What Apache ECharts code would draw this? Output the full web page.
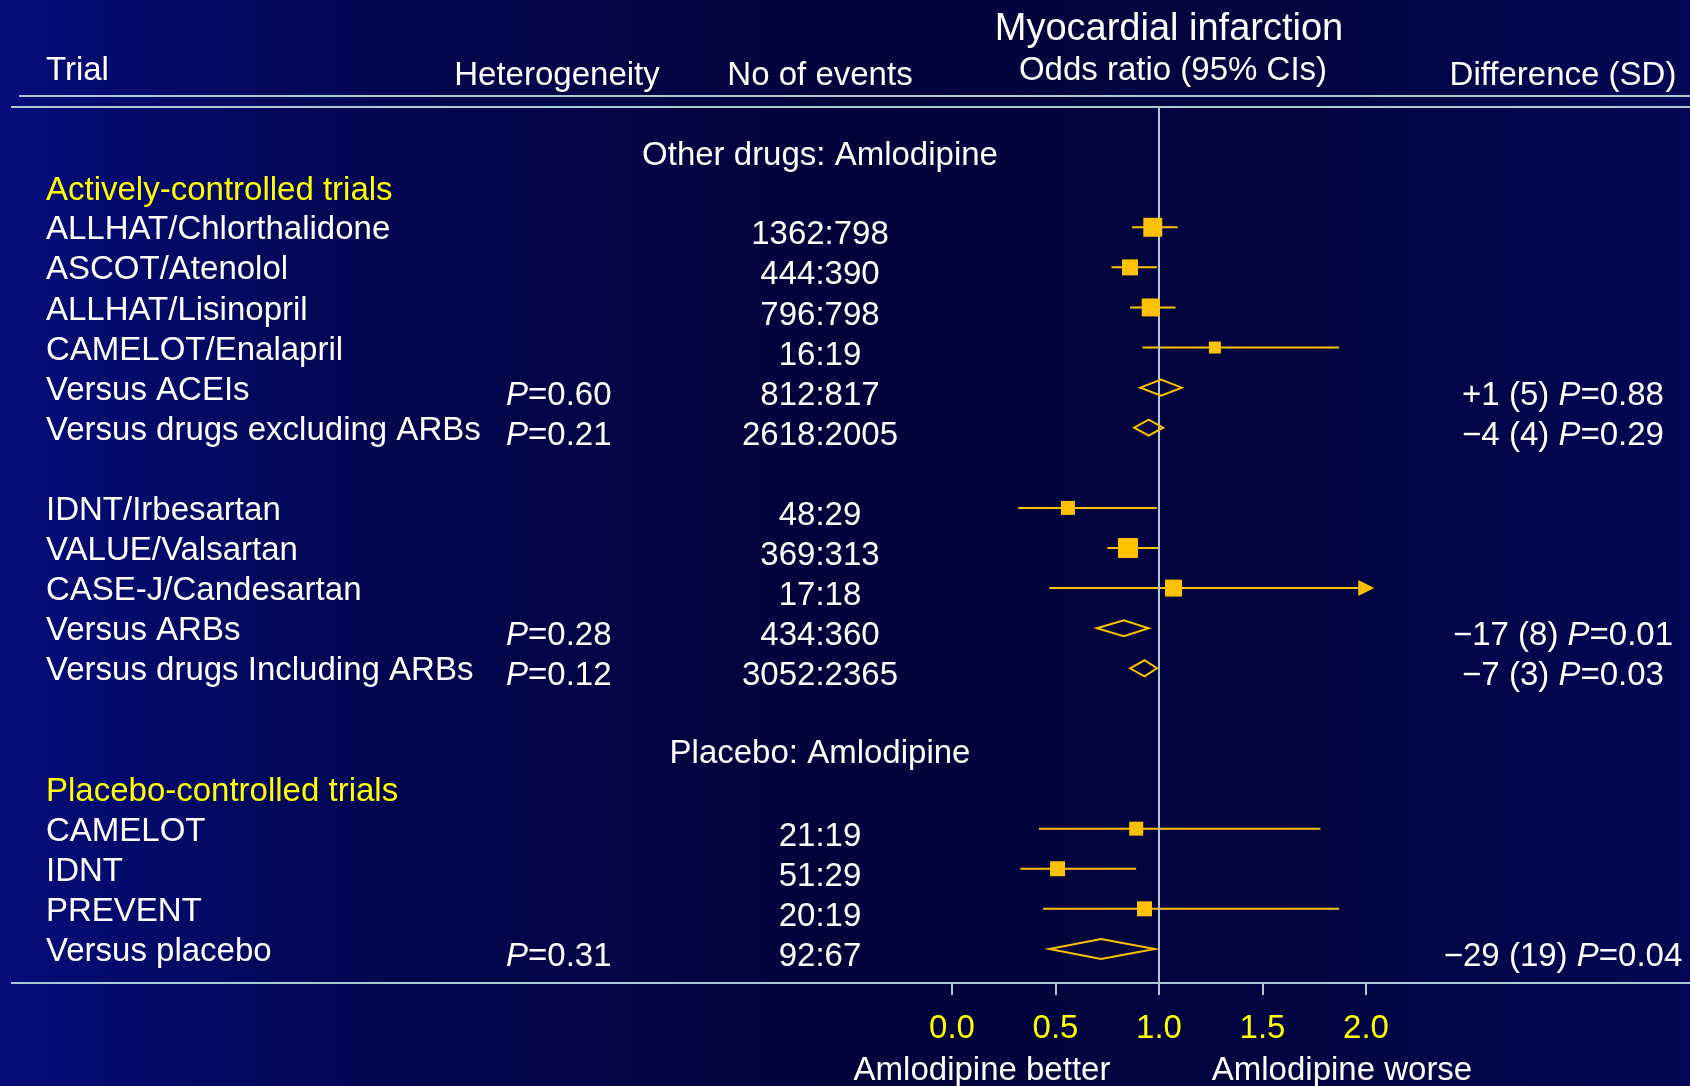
<!DOCTYPE html>
<html>
<head>
<meta charset="utf-8">
<script src="https://cdn.jsdelivr.net/npm/echarts@6/dist/echarts.min.js"></script>
<style>
  html, body { margin: 0; padding: 0; overflow: hidden; background: #01023a; }
  #chart { width: 1690px; height: 1086px; }
</style>
</head>
<body>
<div id="chart"></div>
<script>
// rows of the forest plot, top to bottom
const trialLabels = [
    'ALLHAT/Chlorthalidone', 'ASCOT/Atenolol', 'ALLHAT/Lisinopril', 'CAMELOT/Enalapril',
    'Versus ACEIs', 'Versus drugs excluding ARBs',
    'IDNT/Irbesartan', 'VALUE/Valsartan', 'CASE-J/Candesartan',
    'Versus ARBs', 'Versus drugs Including ARBs',
    'CAMELOT', 'IDNT', 'PREVENT', 'Versus placebo'
];
const rowIndex = [0, 1, 2, 3, 4, 5, 7, 8, 9, 10, 11, 15, 16, 17, 18];
const isPooled = [0, 0, 0, 0, 1, 1, 0, 0, 0, 1, 1, 0, 0, 0, 1];
const events = [
    '1362:798', '444:390', '796:798', '16:19', '812:817', '2618:2005',
    '48:29', '369:313', '17:18', '434:360', '3052:2365',
    '21:19', '51:29', '20:19', '92:67'
];
const oddsRatio = [0.97, 0.86, 0.96, 1.27, 1.01, 0.95, 0.56, 0.85, 1.07, 0.83, 0.93, 0.89, 0.51, 0.93, 0.72];
const ciLow     = [0.87, 0.77, 0.86, 0.92, 0.91, 0.88, 0.32, 0.75, 0.47, 0.70, 0.86, 0.42, 0.33, 0.44, 0.47];
const ciHigh    = [1.09, 0.99, 1.08, 1.87, 1.11, 1.02, 0.99, 1.00, 2.04, 0.95, 0.99, 1.78, 0.89, 1.87, 0.98];
const boxWeight = [19, 16, 18, 12, 0, 0, 14, 20, 17, 0, 0, 14, 15, 15, 0];
const heterogeneityP = ['', '', '', '', '0.60', '0.21', '', '', '', '0.28', '0.12', '', '', '', '0.31'];
const differenceSD = ['', '', '', '', '+1 (5)', '\u22124 (4)', '', '', '', '\u221217 (8)', '\u22127 (3)', '', '', '', '\u221229 (19)'];
const differenceP  = ['', '', '', '', '0.88', '0.29', '', '', '', '0.01', '0.03', '', '', '', '0.04'];

const sectionTitles = ['Other drugs: Amlodipine', 'Placebo: Amlodipine'];
const sectionRows = [-1.85, 13.05];
const groupTitles = ['Actively-controlled trials', 'Placebo-controlled trials'];
const groupRows = [-0.97, 14.02];

const X_MIN = 0, X_MAX = 2, X_STEP = 0.5;
const Y_MIN = -3, Y_MAX = 18.85;

const MARK = '#ffc000';
const RULE = '#a9c9d3';
const WHITE = '#ffffff';
const YELLOW = '#ffff00';
const FONT = '"Liberation Sans", Arial, sans-serif';
const FS = 33;

function txt(x, y, text, align, size, color, rich) {
    return {
        type: 'text',
        x: x, y: y,
        style: {
            text: text,
            align: align,
            verticalAlign: 'middle',
            font: `${size}px ${FONT}`,
            fill: color || WHITE,
            rich: rich
        }
    };
}

const italicRich = { i: { fontStyle: 'italic', fontSize: FS, fontFamily: FONT, fill: WHITE } };

function renderCi(params, api) {
    const i = params.dataIndex;
    if (isPooled[i]) return null;
    const row = api.value(1);
    const pLo = api.coord([ciLow[i], row]);
    const pHi = api.coord([ciHigh[i], row]);
    let xEnd = pHi[0];
    if (ciHigh[i] > X_MAX) xEnd -= 14;
    return {
        type: 'line',
        shape: { x1: pLo[0], y1: pLo[1], x2: xEnd, y2: pLo[1] },
        style: { stroke: MARK, lineWidth: 2 }
    };
}

function renderMark(params, api) {
    const i = params.dataIndex;
    const row = api.value(1);
    const p = api.coord([oddsRatio[i], row]);
    const pLo = api.coord([ciLow[i], row]);
    const pHi = api.coord([ciHigh[i], row]);
    if (isPooled[i]) {
        const h = i === isPooled.length - 1 ? 10 : 8;
        return {
            type: 'polygon',
            shape: { points: [[pLo[0], p[1]], [p[0], p[1] - h], [pHi[0], p[1]], [p[0], p[1] + h]] },
            style: { fill: 'none', stroke: MARK, lineWidth: 2 }
        };
    }
    const s = boxWeight[i];
    const children = [{
        type: 'rect',
        shape: { x: p[0] - s / 2, y: p[1] - s / 2, width: s, height: s },
        style: { fill: MARK }
    }];
    if (ciHigh[i] > X_MAX) {
        children.push({
            type: 'polygon',
            shape: { points: [[pHi[0] - 16, p[1] - 8], [pHi[0], p[1]], [pHi[0] - 16, p[1] + 8]] },
            style: { fill: MARK }
        });
    }
    return { type: 'group', children: children };
}

function renderRowText(params, api) {
    const i = params.dataIndex;
    const y = api.coord([1, api.value(1)])[1];
    const kids = [txt(46, y + 3, trialLabels[i], 'left', FS)];
    if (heterogeneityP[i]) {
        kids.push(txt(506, y + 8, `{i|P}=${heterogeneityP[i]}`, 'left', FS, WHITE, italicRich));
    }
    kids.push(txt(820, y + 8, events[i], 'center', FS));
    if (differenceSD[i]) {
        kids.push(txt(1563, y + 8, `${differenceSD[i]} {i|P}=${differenceP[i]}`, 'center', FS, WHITE, italicRich));
    }
    return { type: 'group', children: kids };
}

function renderSection(params, api) {
    const y = api.coord([1, api.value(1)])[1];
    return txt(820, y + 3, sectionTitles[params.dataIndex], 'center', FS);
}

function renderGroup(params, api) {
    const y = api.coord([1, api.value(1)])[1];
    return txt(46, y + 3, groupTitles[params.dataIndex], 'left', FS, YELLOW);
}

const chart = echarts.init(document.getElementById('chart'));

chart.setOption({
    animation: false,
    backgroundColor: new echarts.graphic.LinearGradient(0, 0, 1, 0, [
        { offset: 0, color: '#060d7a' },
        { offset: 0.22, color: '#030650' },
        { offset: 0.5, color: '#01023a' },
        { offset: 0.78, color: '#010440' },
        { offset: 1, color: '#030754' }
    ]),
    grid: { left: 952, right: 324, top: 107, bottom: 103 },
    xAxis: {
        type: 'value',
        position: 'bottom',
        min: X_MIN, max: X_MAX, interval: X_STEP,
        axisLine: { show: false, onZero: false },
        splitLine: { show: false },
        axisTick: { show: true, length: 12, lineStyle: { color: RULE, width: 2 } },
        axisLabel: {
            color: YELLOW, fontSize: FS, fontFamily: FONT, margin: 29,
            formatter: (v) => v.toFixed(1)
        }
    },
    yAxis: { type: 'value', min: Y_MIN, max: Y_MAX, inverse: true, show: false },
    graphic: [
        { type: 'line', shape: { x1: 19, y1: 96, x2: 1690, y2: 96 }, style: { stroke: RULE, lineWidth: 2 } },
        { type: 'line', shape: { x1: 11, y1: 107, x2: 1690, y2: 107 }, style: { stroke: RULE, lineWidth: 2 } },
        { type: 'line', shape: { x1: 11, y1: 983, x2: 1690, y2: 983 }, style: { stroke: RULE, lineWidth: 2 } },
        txt(46, 71, 'Trial', 'left', FS),
        txt(557, 76, 'Heterogeneity', 'center', FS),
        txt(820, 76, 'No of events', 'center', FS),
        txt(1169, 30, 'Myocardial infarction', 'center', 38),
        txt(1173, 71, 'Odds ratio (95% CIs)', 'center', FS),
        txt(1563, 76, 'Difference (SD)', 'center', FS),
        txt(982, 1071, 'Amlodipine better', 'center', FS),
        txt(1342, 1071, 'Amlodipine worse', 'center', FS)
    ],
    series: [
        {
            name: 'ci', type: 'custom', z: 2, clip: false,
            renderItem: renderCi,
            data: rowIndex.map((r) => [1, r])
        },
        {
            name: 'null line', type: 'line', z: 3, symbol: 'none', silent: true,
            lineStyle: { color: RULE, width: 2 },
            data: [[1, Y_MIN], [1, Y_MAX]]
        },
        {
            name: 'marks', type: 'custom', z: 4, clip: false,
            renderItem: renderMark,
            data: rowIndex.map((r) => [1, r])
        },
        {
            name: 'table', type: 'custom', z: 5, clip: false,
            renderItem: renderRowText,
            data: rowIndex.map((r) => [1, r])
        },
        {
            name: 'sections', type: 'custom', z: 5, clip: false,
            renderItem: renderSection,
            data: sectionRows.map((r) => [1, r])
        },
        {
            name: 'groups', type: 'custom', z: 5, clip: false,
            renderItem: renderGroup,
            data: groupRows.map((r) => [1, r])
        }
    ]
});

window.addEventListener('resize', () => chart.resize());
</script>
</body>
</html>
